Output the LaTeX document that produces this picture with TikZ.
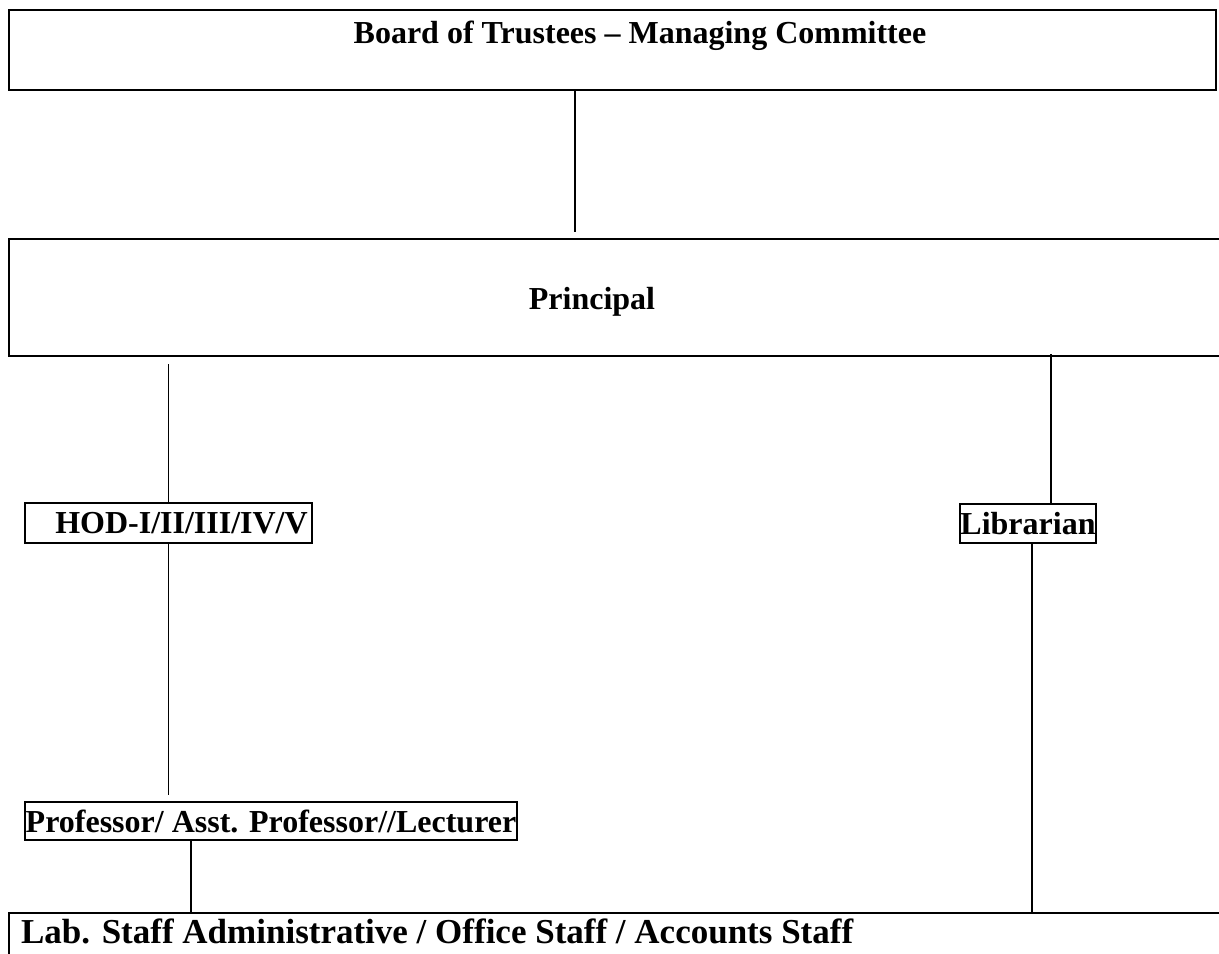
\documentclass[tikz,border=0pt]{standalone}
\usepackage{fontspec}
\setmainfont{Liberation Serif}
\begin{document}
\begin{tikzpicture}[x=0.5pt,y=-0.5pt]
\useasboundingbox (0,0) rectangle (1219,953);
\begin{scope}[box/.style={rectangle,draw,line width=1pt,inner sep=0pt},
              txt/.style={font=\bfseries\fontsize{16}{19}\selectfont},
              link/.style={line width=0.6pt},
              link2/.style={line width=0.9pt}]
    \node [box,minimum width=603.5pt,minimum height=40pt] (board) at (612.5,50) {};
    \node [txt,anchor=base] (boardtxt) at (640,43) {Board of Trustees -- Managing Committee};
    \node [box,minimum width=610.5pt,minimum height=58.5pt] (principal) at (619.5,297.5) {};
    \node [txt,anchor=base] (principaltxt) at (592,309) {Principal};
    \node [box,txt,minimum width=143.5pt,minimum height=20pt] (hod) at (168.5,523) {\hspace*{13pt}HOD-I/II/III/IV/V};
    \node [box,txt,minimum width=68pt,minimum height=19.5pt] (lib) at (1028,523.5) {Librarian};
    \node [box,txt,minimum width=246pt,minimum height=19pt] (prof) at (271,821) {Professor/ Asst. Professor//Lecturer};
    \node [box,minimum width=610.5pt,minimum height=33.5pt] (staff) at (619.5,946.5) {};
    \node [txt,anchor=base west,font=\bfseries\fontsize{17.5}{20}\selectfont] (stafftxt) at (14,943) {Lab. Staff Administrative / Office Staff / Accounts Staff};
    % board -> principal
    \draw [link] ([xshift=-18.75pt]board.south) -- ([xshift=-22.25pt,yshift=3pt]principal.north);
    % principal -> hod / librarian
    \draw [link] ([yshift=-3.5pt]principal.south -| hod.north) -- (hod.north);
    \draw [link] ([xshift=11.5pt,yshift=1.5pt]lib.north |- principal.south) -- ([xshift=11.5pt]lib.north);
    % down to the staff
    \draw [link2] (hod.south) -- ([yshift=3pt]hod.south |- prof.north);
    \draw [link2] ([xshift=-40pt]prof.south) -- ([xshift=-40pt]prof.south |- staff.north);
    \draw [link2] ([xshift=2pt]lib.south) -- ([xshift=2pt]lib.south |- staff.north);
\end{scope}
\end{tikzpicture}
\end{document}
